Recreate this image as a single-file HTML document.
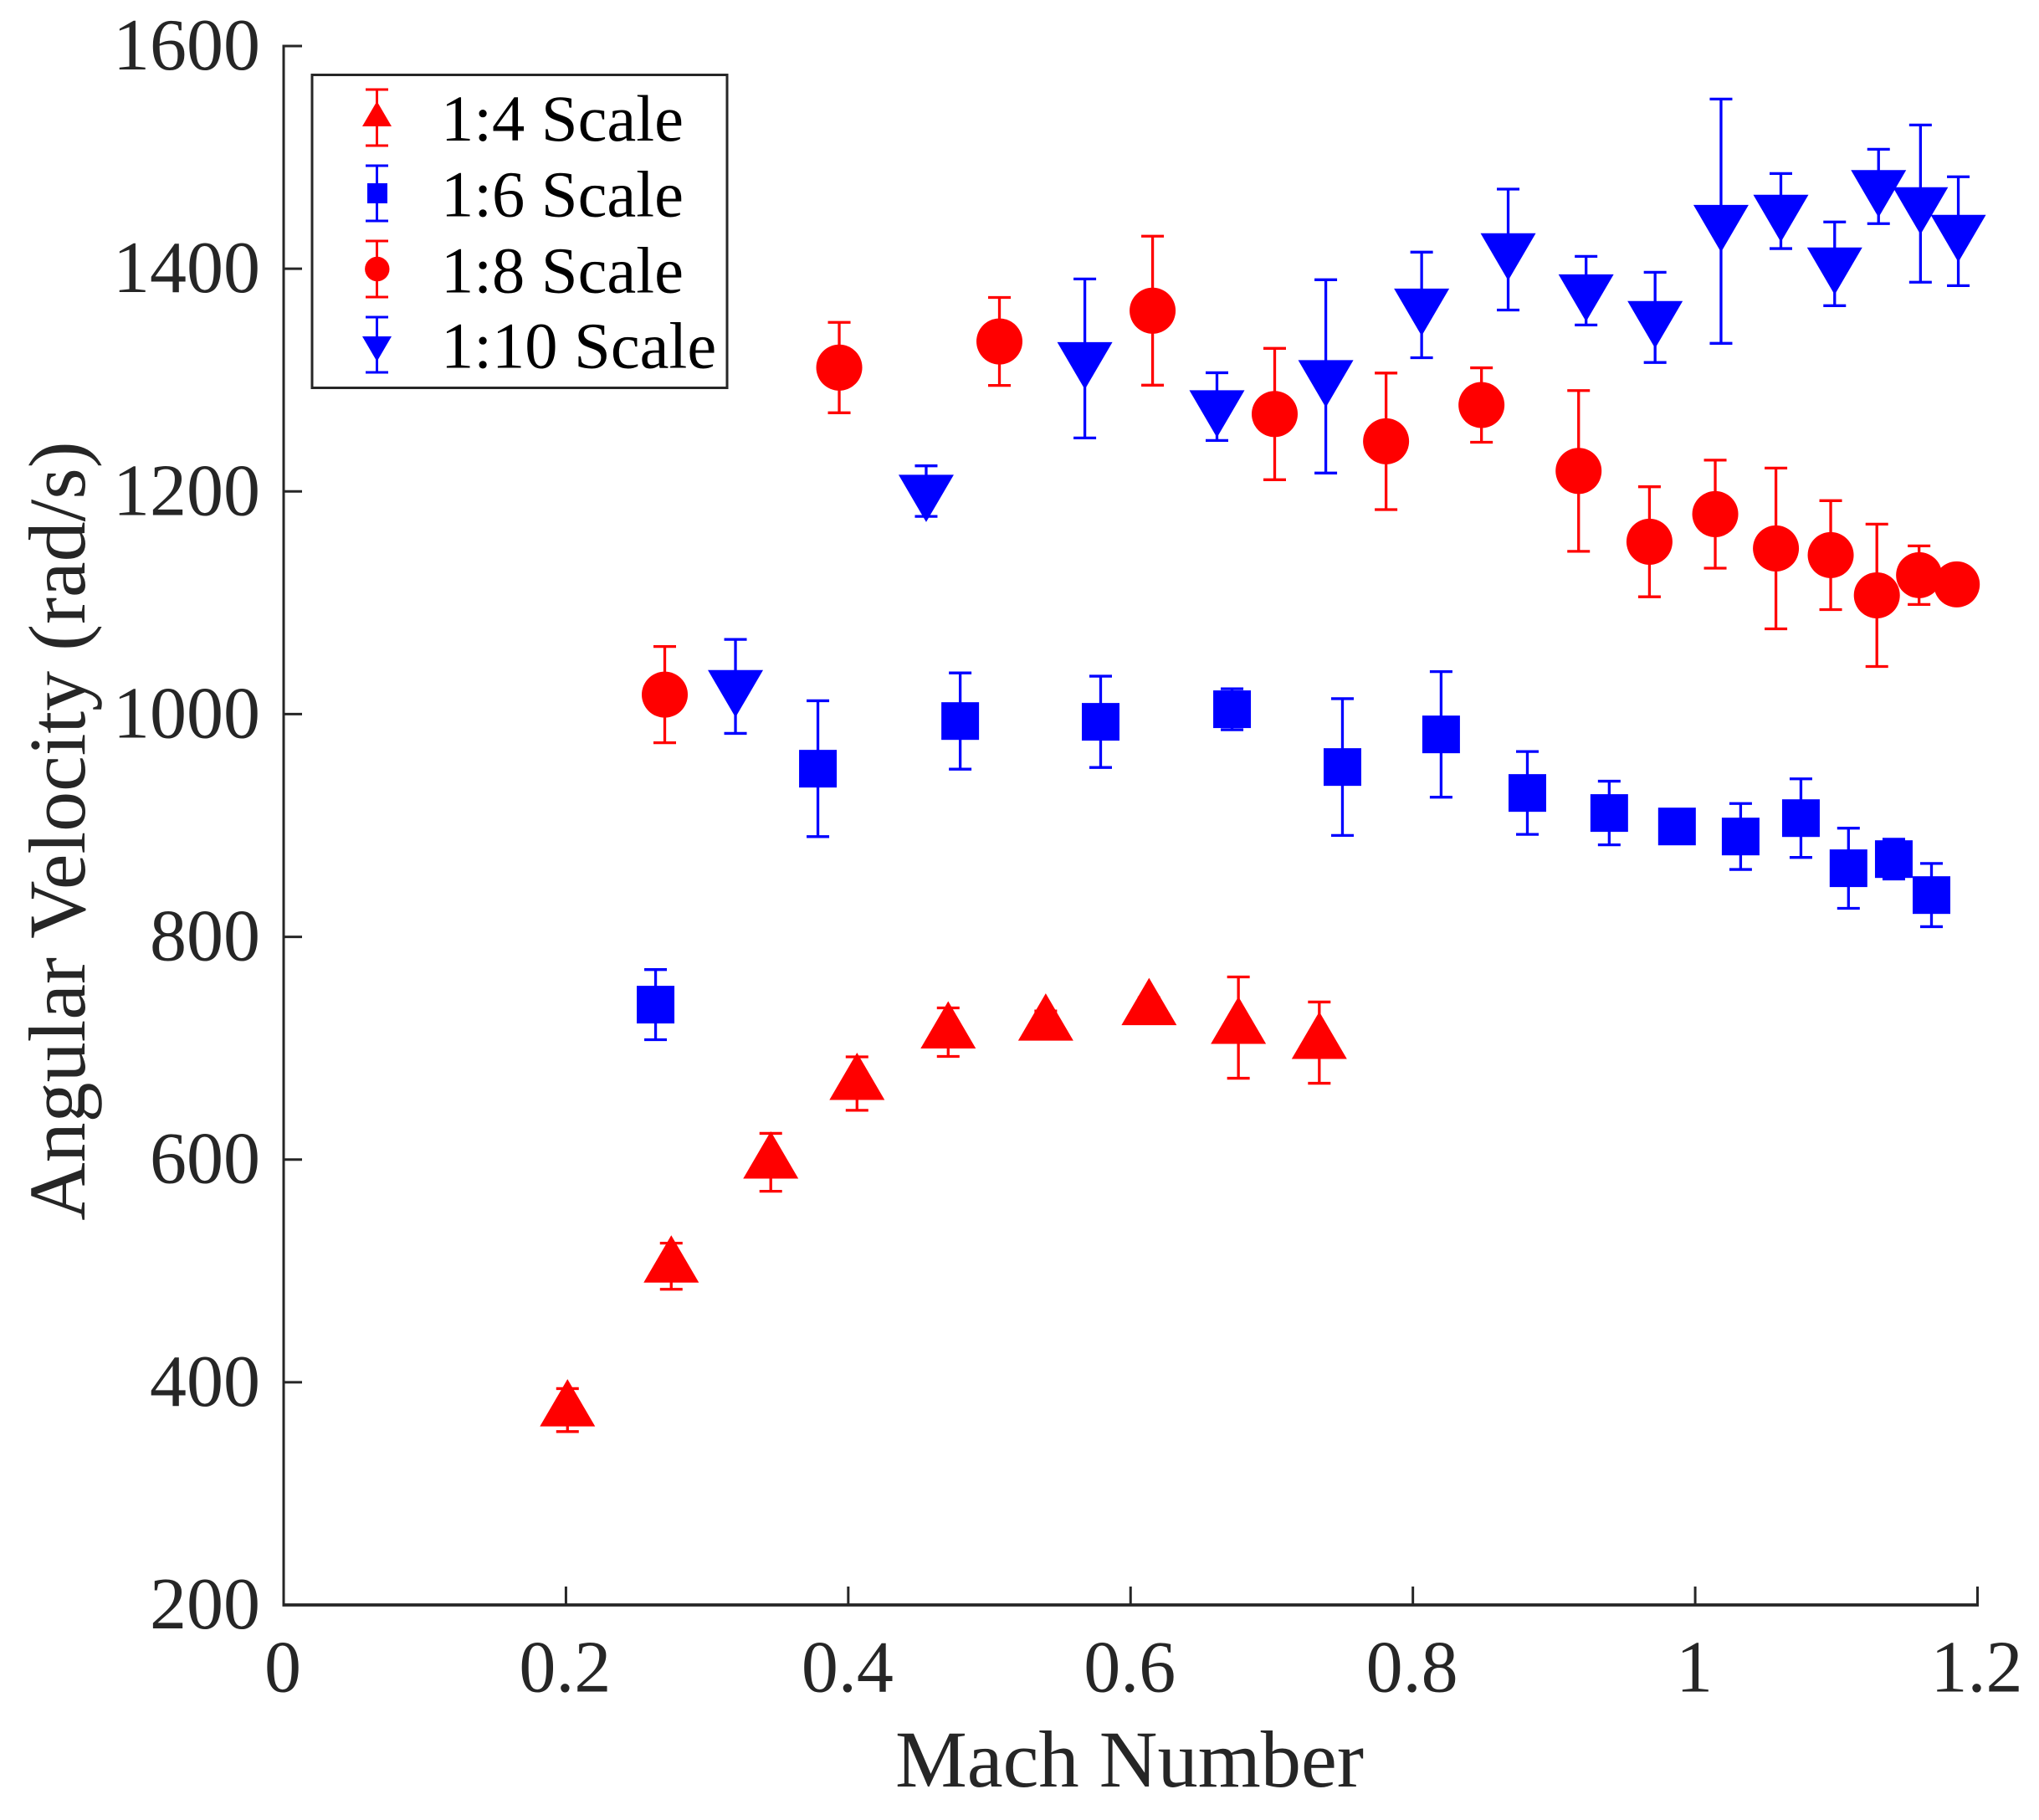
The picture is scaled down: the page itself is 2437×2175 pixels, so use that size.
<!DOCTYPE html>
<html lang="en">
<head>
<meta charset="utf-8">
<title>Angular Velocity vs Mach Number</title>
<style>
html,body{margin:0;padding:0;background:#fff;}
svg{display:block;}
text{font-family:"Liberation Serif","Times New Roman",serif;}
</style>
</head>
<body>
<svg id="chart" xmlns="http://www.w3.org/2000/svg" width="2437" height="2175" viewBox="0 0 2437 2175">
  <rect x="0" y="0" width="2437" height="2175" fill="#ffffff"/>
  <g id="axes"></g>
  <g id="marks"></g>
  <text x="1350" y="2135" font-size="96.5" fill="#262626" text-anchor="middle">Mach Number</text>
  <text transform="translate(101 993) rotate(-90)" font-size="96" fill="#262626" text-anchor="middle">Angular Velocity (rad/s)</text>
  <g>
    <rect x="373" y="89.5" width="496" height="374" fill="#ffffff" stroke="#262626" stroke-width="3"/>
    <g>
      <path d="M437 107H464M450.5 107V174M437 174H464" stroke="#ff0000" stroke-width="3" fill="none"/>
      <polygon points="450.5,121 468,151 433,151" fill="#ff0000"/>
      <text x="527" y="168" font-size="78.5" fill="#000000">1:4 Scale</text>
    </g>
    <g>
      <path d="M437 198H464M450.5 198V264M437 264H464" stroke="#0000ff" stroke-width="3" fill="none"/>
      <rect x="439" y="219" width="24" height="24" fill="#0000ff"/>
      <text x="527" y="258.7" font-size="78.5" fill="#000000">1:6 Scale</text>
    </g>
    <g>
      <path d="M437 288H464M450.5 288V355M437 355H464" stroke="#ff0000" stroke-width="3" fill="none"/>
      <circle cx="450.8" cy="321.5" r="14.7" fill="#ff0000"/>
      <text x="527" y="349.3" font-size="78.5" fill="#000000">1:8 Scale</text>
    </g>
    <g>
      <path d="M437 379H464M450.5 379V445M437 445H464" stroke="#0000ff" stroke-width="3" fill="none"/>
      <polygon points="433,402 468,402 450.5,432" fill="#0000ff"/>
      <text x="527" y="439.7" font-size="78.5" fill="#000000">1:10 Scale</text>
    </g>
  </g>
</svg>
<script>
// Axis ticks
const xTicks = [0, 0.2, 0.4, 0.6, 0.8, 1, 1.2];
const yTicks = [200, 400, 600, 800, 1000, 1200, 1400, 1600];

// 1:4 scale
const mach14 = [0.2011, 0.2746, 0.3451, 0.4062, 0.4708, 0.5399, 0.6131, 0.6764, 0.7337];
const omega14 = [375, 504.2, 597.5, 668.2, 714.4, 721.4, 735.3, 718.5, 705];
const err14 = [19.3, 20.7, 26, 24, 21.8, 12, 10, 45.5, 36.5];

// 1:6 scale
const mach16 = [0.2635, 0.3785, 0.4793, 0.5788, 0.6719, 0.7501, 0.82, 0.8811, 0.9391, 0.9871, 1.0322, 1.0749, 1.1086, 1.1407, 1.1674];
const omega16 = [739.1, 951, 993.8, 993.1, 1004.4, 952.5, 981.8, 929.2, 911.2, 899.1, 890.1, 906.6, 861.6, 869.8, 837.5];
const err16 = [31.5, 61, 43.2, 41, 18.4, 61.4, 56.4, 37.2, 28.6, 12, 29.6, 35.3, 36, 17.9, 28.4];

// 1:8 scale
const mach18 = [0.27, 0.3936, 0.5071, 0.6156, 0.7021, 0.781, 0.8486, 0.9174, 0.9676, 1.0142, 1.0572, 1.096, 1.1287, 1.1586, 1.1853];
const omega18 = [1017.5, 1311.2, 1334.7, 1362.3, 1269.5, 1245, 1277.6, 1218.4, 1154.8, 1179.6, 1148.8, 1142.8, 1106.7, 1124.8, 1116.5];
const err18 = [43.2, 40.6, 39.5, 66.9, 59, 61.3, 33.4, 72.2, 49.4, 48.5, 72.2, 48.9, 63.9, 26.3, 12];

// 1:10 scale
const mach110 = [0.3201, 0.4552, 0.5676, 0.6612, 0.7383, 0.8062, 0.8675, 0.9227, 0.9716, 1.0183, 1.0607, 1.0988, 1.1299, 1.1596, 1.1864];
const omega110 = [1024.9, 1200.3, 1319.4, 1276.2, 1303.3, 1367.5, 1417.2, 1380.3, 1356.3, 1442.7, 1451.8, 1404.4, 1473.9, 1458.5, 1433.7];
const err110 = [42.2, 22.7, 71.4, 30.4, 86.8, 47.4, 54.3, 30.8, 40.5, 109.7, 33.7, 37.6, 33.4, 70.6, 48.9];

const SVG_NS = 'http://www.w3.org/2000/svg';
const plot = { left: 339, right: 2363.5, top: 55, bottom: 1918, xMin: 0, xMax: 1.2, yMin: 200, yMax: 1600 };
const RED = '#ff0000';
const BLUE = '#0000ff';
const AXIS = '#262626';

function xScale(v) {
  return plot.left + (v - plot.xMin) / (plot.xMax - plot.xMin) * (plot.right - plot.left);
}
function yScale(v) {
  return plot.bottom - (v - plot.yMin) / (plot.yMax - plot.yMin) * (plot.bottom - plot.top);
}
function make(tag, parent, attrs) {
  const el = document.createElementNS(SVG_NS, tag);
  for (const k in attrs) el.setAttribute(k, attrs[k]);
  parent.appendChild(el);
  return el;
}

const axes = document.getElementById('axes');
const marks = document.getElementById('marks');

const xAxisLine = make('line', axes, { x1: plot.left - 1.5, x2: plot.right + 1.5, y1: plot.bottom, y2: plot.bottom, stroke: AXIS, 'stroke-width': 3.7 });


const yAxisLine = make('line', axes, { x1: plot.left, x2: plot.left, y1: plot.top - 1.5, y2: plot.bottom, stroke: AXIS, 'stroke-width': 3 });



xTicks.forEach(function (t) {
  const px = xScale(t);
  const tick = make('line', axes, { x1: px, x2: px, y1: plot.bottom, y2: plot.bottom - 22, stroke: AXIS, 'stroke-width': 3 });
  
  
  const label = make('text', axes, { x: px - 1, y: 2021.5, 'font-size': 88, fill: AXIS, 'text-anchor': 'middle' });
  
  
  label.textContent = String(t);
});

yTicks.forEach(function (t) {
  const py = yScale(t);
  const tick = make('line', axes, { x1: plot.left, x2: plot.left + 22, y1: py, y2: py, stroke: AXIS, 'stroke-width': 3 });
  
  
  const label = make('text', axes, { x: 311, y: py + 28, 'font-size': 88, fill: AXIS, 'text-anchor': 'end' });
  
  
  label.textContent = String(t);
});

function drawError(group, x, y, e, color) {
  const px = xScale(x);
  const top = yScale(y + e);
  const bot = yScale(y - e);
  const d = 'M' + (px - 13.5) + ' ' + top + 'H' + (px + 13.5) +
            'M' + px + ' ' + top + 'V' + bot +
            'M' + (px - 13.5) + ' ' + bot + 'H' + (px + 13.5);
  const bar = make('path', group, { d: d, stroke: color, 'stroke-width': 3.3, fill: 'none' });
  
  
}

function drawMarker(group, shape, x, y, color) {
  const px = xScale(x);
  const py = yScale(y);
  let m;
  if (shape === 'up') {
    m = make('polygon', group, { points: (px) + ',' + (py - 37) + ' ' + (px + 33) + ',' + (py + 19.5) + ' ' + (px - 33) + ',' + (py + 19.5), fill: color });
  } else if (shape === 'down') {
    m = make('polygon', group, { points: (px - 33) + ',' + (py - 19.5) + ' ' + (px + 33) + ',' + (py - 19.5) + ' ' + (px) + ',' + (py + 37), fill: color });
  } else if (shape === 'square') {
    m = make('rect', group, { x: px - 22.5, y: py - 22.5, width: 45, height: 45, fill: color });
  } else {
    m = make('circle', group, { cx: px, cy: py, r: 27.5, fill: color });
  }
  
  
}

function drawSeries(name, xs, ys, es, shape, color) {
  const group = make('g', marks, {});
  
  
  xs.forEach(function (x, i) {
    drawError(group, x, ys[i], es[i], color);
    drawMarker(group, shape, x, ys[i], color);
  });
}

drawSeries('series-1-4-scale', mach14, omega14, err14, 'up', RED);
drawSeries('series-1-6-scale', mach16, omega16, err16, 'square', BLUE);
drawSeries('series-1-8-scale', mach18, omega18, err18, 'circle', RED);
drawSeries('series-1-10-scale', mach110, omega110, err110, 'down', BLUE);
</script>
</body>
</html>
